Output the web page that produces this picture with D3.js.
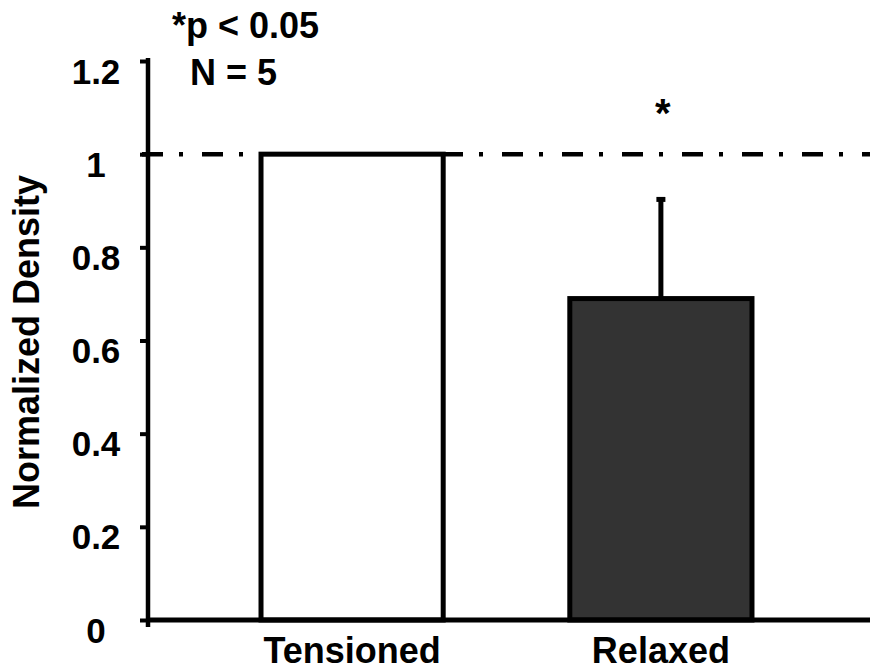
<!DOCTYPE html>
<html>
<head>
<meta charset="utf-8">
<script src="https://cdn.jsdelivr.net/npm/d3@7"></script>
<style>
  html, body { margin: 0; padding: 0; background: #fff; }
  svg { display: block; }
  text { font-family: "Liberation Sans", Arial, Helvetica, sans-serif; font-weight: bold; fill: #000; }
</style>
</head>
<body>
<svg id="chart" width="870" height="671"></svg>
<script>
// Normalized density per condition (mean and error)
const categories = ["Tensioned", "Relaxed"];
const means = [1.0, 0.69];
const errors = [0, 0.215];
const fills = ["#ffffff", "#333333"];
const yTicks = [0, 0.2, 0.4, 0.6, 0.8, 1.0, 1.2];
const yTickLabels = ["0", "0.2", "0.4", "0.6", "0.8", "1", "1.2"];
const referenceLevel = 1.0;
const significance = ["", "*"];
const noteLines = ["*p < 0.05", "N = 5"];
const yTitle = "Normalized Density";

const svg = d3.select("#chart");

const x = d3.scaleBand()
  .domain(categories)
  .range([148, 865])
  .paddingInner(0.41)
  .paddingOuter(0.366);

const y = d3.scaleLinear()
  .domain([0, 1.2])
  .range([620, 61]);

// dash-dot reference line at the normalized level
svg.append("line")
  .attr("x1", 142).attr("x2", 870)
  .attr("y1", y(referenceLevel)).attr("y2", y(referenceLevel))
  .attr("stroke", "#000")
  .attr("stroke-width", 4.5)
  .attr("stroke-dasharray", "21,16,4,19");

// bars
const data = categories.map((c, i) => ({ c, m: means[i], e: errors[i], f: fills[i], s: significance[i] }));

svg.selectAll("rect.bar")
  .data(data)
  .join("rect")
  .attr("class", "bar")
  .attr("x", d => x(d.c))
  .attr("width", x.bandwidth())
  .attr("y", d => y(d.m))
  .attr("height", d => y(0) - y(d.m))
  .attr("fill", d => d.f)
  .attr("stroke", "#000")
  .attr("stroke-width", 5);

// error bars (upper only)
const eb = data.filter(d => d.e > 0);
svg.selectAll("line.err")
  .data(eb)
  .join("line")
  .attr("class", "err")
  .attr("x1", d => x(d.c) + x.bandwidth() / 2)
  .attr("x2", d => x(d.c) + x.bandwidth() / 2)
  .attr("y1", d => y(d.m))
  .attr("y2", d => y(d.m + d.e))
  .attr("stroke", "#000")
  .attr("stroke-width", 5);
svg.selectAll("line.cap")
  .data(eb)
  .join("line")
  .attr("class", "cap")
  .attr("x1", d => x(d.c) + x.bandwidth() / 2 - 4.5)
  .attr("x2", d => x(d.c) + x.bandwidth() / 2 + 4.5)
  .attr("y1", d => y(d.m + d.e) + 1)
  .attr("y2", d => y(d.m + d.e) + 1)
  .attr("stroke", "#000")
  .attr("stroke-width", 5);

// significance marker
svg.selectAll("text.sig")
  .data(data.filter(d => d.s))
  .join("text")
  .attr("class", "sig")
  .attr("x", d => x(d.c) + x.bandwidth() / 2 + 2)
  .attr("y", 127)
  .attr("text-anchor", "middle")
  .attr("font-size", 40)
  .text(d => d.s);

// y axis
const yAxis = d3.axisLeft(y)
  .tickValues(yTicks)
  .tickFormat((d, i) => yTickLabels[i])
  .tickSize(8)
  .tickSizeOuter(0)
  .tickPadding(0);

const gy = svg.append("g").attr("transform", "translate(148,0)").call(yAxis);
gy.select(".domain").remove();
gy.selectAll(".tick line").attr("stroke", "#000").attr("stroke-width", 4);
gy.selectAll(".tick text")
  .attr("x", -52)
  .attr("dy", 22)
  .attr("text-anchor", "middle")
  .attr("font-size", 35)
  .attr("font-family", null)
  .attr("fill", "#000");
gy.append("line")
  .attr("x1", 0).attr("x2", 0)
  .attr("y1", y(1.2) - 3).attr("y2", y(0) + 7)
  .attr("stroke", "#000").attr("stroke-width", 4.5);

// x axis
svg.append("line")
  .attr("x1", 146).attr("x2", 870)
  .attr("y1", y(0)).attr("y2", y(0))
  .attr("stroke", "#000").attr("stroke-width", 5);

const xAxis = d3.axisBottom(x).tickSize(0).tickPadding(0);
const gx = svg.append("g").attr("transform", `translate(0,${y(0)})`).call(xAxis);
gx.select(".domain").remove();
gx.selectAll(".tick text")
  .attr("y", 43)
  .attr("dy", 0)
  .attr("font-size", 36)
  .attr("font-family", null)
  .attr("fill", "#000");

// y axis title
svg.append("text")
  .attr("transform", "translate(39,342) rotate(-90)")
  .attr("text-anchor", "middle")
  .attr("font-size", 36)
  .text(yTitle);

// statistics note
svg.append("text").attr("x", 172).attr("y", 38).attr("font-size", 36).text(noteLines[0]);
svg.append("text").attr("x", 190).attr("y", 85).attr("font-size", 36).text(noteLines[1]);
</script>
</body>
</html>
